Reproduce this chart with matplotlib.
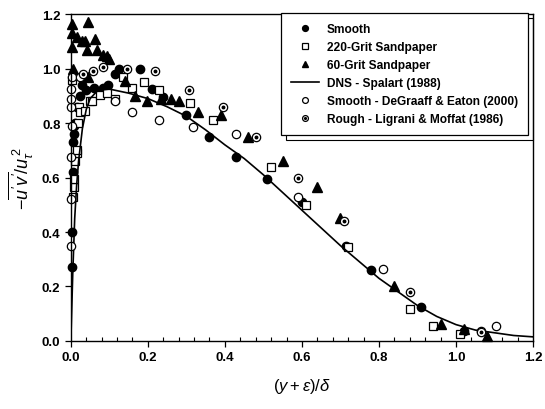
import matplotlib
matplotlib.use("Agg")
import matplotlib.pyplot as plt
import numpy as np
from matplotlib.ticker import MultipleLocator, FormatStrFormatter

plt.rcParams['font.family'] = ['Liberation Sans', 'DejaVu Sans']
plt.rcParams['mathtext.fontset'] = 'custom'
plt.rcParams['mathtext.it'] = 'Liberation Sans:italic'
plt.rcParams['mathtext.rm'] = 'Liberation Sans'

# Smooth
smooth_x = [0.003, 0.004, 0.005, 0.006, 0.007, 0.008, 0.010, 0.015, 0.023, 0.028, 0.04, 0.06,
            0.083, 0.096, 0.114, 0.125, 0.18, 0.21, 0.24, 0.30, 0.36, 0.43, 0.51, 0.60,
            0.715, 0.78, 0.91, 1.02]
smooth_y = [0.27, 0.40, 0.62, 0.73, 0.76, 0.79, 0.80, 0.86, 0.90, 0.94, 0.92, 0.93,
            0.93, 0.94, 0.98, 1.00, 1.00, 0.925, 0.895, 0.83, 0.75, 0.675, 0.595, 0.51,
            0.35, 0.26, 0.125, 0.037]

# 220-Grit Sandpaper
g220_x = [0.003, 0.006, 0.007, 0.009, 0.012, 0.016, 0.016, 0.018, 0.02, 0.023, 0.036, 0.049,
          0.054, 0.075, 0.093, 0.114, 0.135, 0.16, 0.19, 0.23, 0.31, 0.37, 0.52, 0.61,
          0.72, 0.88, 0.94, 1.01]
g220_y = [0.96, 0.53, 0.565, 0.595, 0.66, 0.69, 0.70, 0.80, 0.86, 0.84, 0.845, 0.88,
          0.88, 0.905, 0.91, 0.89, 0.97, 0.93, 0.95, 0.92, 0.875, 0.81, 0.64, 0.50,
          0.345, 0.117, 0.055, 0.026]

# 60-Grit Sandpaper
g60_x = [0.003, 0.003, 0.003, 0.005, 0.016, 0.028, 0.036, 0.041, 0.044, 0.062, 0.067, 0.083,
         0.10, 0.044, 0.093, 0.14, 0.166, 0.197, 0.235, 0.26, 0.28, 0.33, 0.39, 0.46,
         0.55, 0.64, 0.70, 0.84, 0.96, 1.02, 1.08]
g60_y = [1.165, 1.13, 1.08, 1.0, 1.115, 1.10, 1.10, 1.07, 1.17, 1.11, 1.07, 1.05,
         1.035, 0.97, 1.045, 0.955, 0.90, 0.88, 0.89, 0.89, 0.88, 0.84, 0.83, 0.75,
         0.66, 0.565, 0.45, 0.20, 0.062, 0.044, 0.018]

# DNS - Spalart (1988)
dns_x = [0, 0.002, 0.005, 0.01, 0.015, 0.02, 0.03, 0.04, 0.05, 0.07, 0.1, 0.15, 0.2, 0.25,
         0.3, 0.35, 0.4, 0.45, 0.5, 0.55, 0.6, 0.65, 0.7, 0.75, 0.8, 0.85, 0.9, 0.95,
         1.0, 1.05, 1.1, 1.15, 1.2]
dns_y = [0, 0.1, 0.25, 0.45, 0.57, 0.66, 0.78, 0.85, 0.89, 0.92, 0.925, 0.91, 0.89, 0.86,
         0.825, 0.775, 0.72, 0.67, 0.61, 0.545, 0.48, 0.415, 0.35, 0.29, 0.23, 0.18, 0.13,
         0.09, 0.06, 0.04, 0.03, 0.02, 0.015]

# Smooth - DeGraaff & Eaton (2000)
dg_x = [0.001, 0.001, 0.0, 0.002, 0.0, 0.0, 0.001, 0.003, 0.023, 0.114, 0.16, 0.23,
        0.316, 0.43, 0.59, 0.81, 1.065, 1.105]
dg_y = [0.35, 0.52, 0.675, 0.79, 0.86, 0.89, 0.925, 0.97, 0.97, 0.88, 0.84, 0.81,
        0.785, 0.76, 0.53, 0.265, 0.037, 0.055]

# Rough - Ligrani & Moffat (1986)
lm_x = [0.031, 0.057, 0.083, 0.145, 0.218, 0.308, 0.394, 0.48, 0.59, 0.71, 0.88, 1.065]
lm_y = [0.98, 0.99, 1.005, 1.0, 0.99, 0.92, 0.86, 0.75, 0.60, 0.44, 0.18, 0.033]

fig = plt.figure(figsize=(5.45, 4.10), dpi=100)
ax = fig.add_axes([0.130, 0.166, 0.848, 0.797])

ms = 6
h1, = ax.plot(smooth_x, smooth_y, 'o', color='k', ms=ms, ls='none', clip_on=False)
h2, = ax.plot(g220_x, g220_y, 's', mfc='white', mec='k', mew=0.9, ms=ms - 0.5, ls='none',
              clip_on=False)
h3, = ax.plot(g60_x, g60_y, '^', color='k', ms=ms + 0.5, ls='none', clip_on=False)
h4, = ax.plot(dns_x, dns_y, '-', color='k', lw=1.2)
h5, = ax.plot(dg_x, dg_y, 'o', mfc='white', mec='k', mew=0.9, ms=ms, ls='none', clip_on=False)
h6a, = ax.plot(lm_x, lm_y, 'o', mfc='white', mec='k', mew=0.9, ms=ms, ls='none', clip_on=False)
h6b, = ax.plot(lm_x, lm_y, 'o', color='k', ms=1.8, ls='none', clip_on=False)

ax.set_xlim(0, 1.2)
ax.set_ylim(0, 1.2)
ax.xaxis.set_major_locator(MultipleLocator(0.2))
ax.xaxis.set_minor_locator(MultipleLocator(0.04))
ax.yaxis.set_major_locator(MultipleLocator(0.2))
ax.xaxis.set_major_formatter(FormatStrFormatter('%.1f'))
ax.yaxis.set_major_formatter(FormatStrFormatter('%.1f'))
ax.tick_params(which='major', direction='out', length=4, width=0.9, labelsize=9.5)
ax.tick_params(axis='x', which='minor', direction='in', length=3, width=0.8)
for lab in ax.get_xticklabels() + ax.get_yticklabels():
    lab.set_fontweight('bold')
for s in ax.spines.values():
    s.set_linewidth(1.0)

ax.set_xlabel(r'$(y+\varepsilon)/\delta$', fontsize=12, labelpad=9)
ax.set_ylabel(r"$-\overline{u'v'}/u_\tau^{\,2}$", fontsize=13, labelpad=4)

leg = ax.legend([h1, h2, h3, h4, h5, (h6a, h6b)],
                ['Smooth', '220-Grit Sandpaper', '60-Grit Sandpaper', 'DNS - Spalart (1988)',
                 'Smooth - DeGraaff & Eaton (2000)', 'Rough - Ligrani & Moffat (1986)'],
                loc='upper right', bbox_to_anchor=(0.989, 1.004), borderaxespad=0,
                fancybox=False, edgecolor='k', framealpha=1, numpoints=1,
                prop={'weight': 'bold', 'size': 8.6}, handlelength=2.4, handletextpad=0.6,
                labelspacing=0.5, borderpad=0.85, markerscale=0.7,
                shadow={'ox': 3.5, 'oy': -3.5, 'facecolor': 'none', 'edgecolor': 'k',
                        'alpha': 1, 'linewidth': 0.8})
leg.get_frame().set_linewidth(0.9)
leg.set_zorder(5)

fig.savefig('out.png', dpi=100)
